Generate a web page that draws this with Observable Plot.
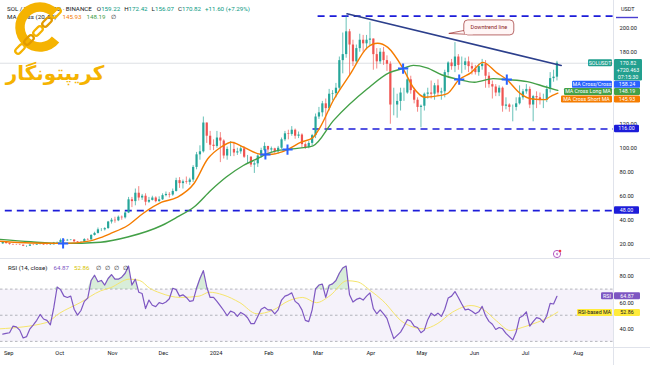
<!DOCTYPE html>
<html>
<head>
<meta charset="utf-8">
<script src="https://cdn.jsdelivr.net/npm/d3@7"></script>
<script src="https://cdn.jsdelivr.net/npm/@observablehq/plot@0.6"></script>
<style>
  html, body { margin: 0; padding: 0; background: #ffffff; }
  #chart { width: 650px; height: 365px; overflow: hidden; position: relative; background: #fff; }
  #chart svg { display: block; }
</style>
</head>
<body>
<div id="chart"></div>
<script>
// ================= DATA =================
// 2-day candles, first one starts 2023-08-28, last one 2024-07-19/20
const candleStart = "2023-08-28";
const firstOpen = 20.3;
const closes = [
  21.7, 20.5,
  19.8, 19.5, 19.4, 19.2, 18.3, 18.3, 19.3, 19.2, 19.7, 20.0, 19.4, 19.3, 19.5, 21.0, 21.3,
  23.2, 22.8, 23.3, 23.5, 22.0, 21.5, 21.6, 23.9, 23.6, 27.3, 29.0, 32.0, 32.0, 33.0, 38.5, 40.0,
  39.5, 42.5, 42.0, 46.0, 57.0, 55.5, 62.5, 58.5, 60.0, 55.0, 56.5, 58.5, 55.5, 57.0, 60.5,
  61.5, 61.0, 64.0, 73.0, 70.5, 72.0, 71.5, 73.5, 84.0, 94.5, 97.0, 121.0, 110.0, 102.5, 101.5,
  108.5, 106.0, 93.5, 99.0, 99.0, 96.0, 97.0, 99.5, 92.5, 92.5, 86.0, 87.0, 93.5, 98.0, 101.5, 98.5,
  99.5, 97.0, 100.0, 107.0, 112.0, 111.5, 115.0, 110.0, 111.0, 103.0, 100.5, 104.0, 110.5, 126.0,
  129.5, 137.0, 133.0, 145.0, 145.5, 150.0, 173.0, 178.0, 197.0, 186.0, 172.0, 183.0, 190.0, 187.0, 190.0, 191.0,
  178, 172, 180, 173, 170, 136, 136, 139, 146, 146, 157, 148, 140, 134, 135,
  145, 146, 145, 152, 146, 147, 163, 171, 168, 176, 169, 169, 172, 168, 166,
  163, 168, 170, 160, 153, 151, 146, 150, 135, 136, 134, 134, 137, 142, 147,
  149, 136, 143, 142, 140, 140, 149, 158, 159.22, 170.82
];
const highs = [
  22.3, 21.9,
  20.8, 20.0, 19.9, 19.9, 19.3, 18.6, 19.6, 19.7, 20.2, 20.6, 20.2, 19.7, 19.8, 21.5, 21.8,
  24.4, 23.7, 24.0, 23.9, 23.6, 22.2, 22.0, 24.6, 24.6, 28.0, 30.0, 33.5, 33.0, 33.8, 39.0, 41.5,
  42.5, 43.5, 43.5, 47.0, 59.0, 59.0, 66.0, 68.0, 61.5, 62.0, 59.0, 60.0, 59.5, 59.5, 62.0,
  63.5, 63.0, 66.0, 75.0, 75.5, 73.5, 76.0, 75.0, 85.5, 96.5, 102.0, 126.0, 121.0, 114.0, 107.0,
  114.0, 113.0, 107.0, 101.0, 105.5, 105.0, 100.0, 102.0, 101.0, 94.0, 93.0, 89.0, 94.5, 100.0, 104.5, 101.5,
  101.0, 100.0, 101.5, 108.5, 114.0, 115.0, 118.0, 116.0, 113.5, 112.0, 104.5, 105.5, 111.5, 128.5,
  134, 139, 141, 149, 148, 154, 176, 196, 210, 199, 190, 186, 195, 194, 194, 205,
  191, 183, 183, 184, 177, 172, 150, 145, 150, 150, 165, 160, 150, 142, 136,
  146, 150, 156, 154, 157, 150, 165, 172, 174, 188, 178, 176, 175, 176, 171,
  169, 170, 174, 173, 163, 156, 153, 152, 151, 142, 137, 136, 142, 152, 149,
  153, 151, 144, 147, 146, 145, 152, 163, 165, 172.42
];
const lows = [
  19.8, 20.1,
  19.2, 19.1, 19.0, 18.9, 18.0, 17.3, 18.2, 18.8, 19.0, 19.5, 19.1, 19.0, 18.9, 19.4, 20.8,
  21.2, 22.2, 22.4, 22.9, 21.6, 20.9, 21.0, 21.4, 23.0, 23.5, 26.8, 28.5, 30.5, 31.0, 32.5, 36.8,
  37.5, 38.8, 40.0, 41.0, 45.5, 50.5, 52.0, 56.0, 56.5, 52.0, 54.0, 56.0, 54.5, 55.0, 56.5,
  59.5, 58.5, 60.0, 63.5, 66.5, 66.0, 70.0, 69.0, 71.5, 82.0, 90.0, 96.0, 104.0, 98.0, 98.0,
  100.0, 88.0, 91.0, 90.0, 93.0, 93.0, 94.0, 95.0, 91.5, 87.0, 84.0, 79.0, 84.0, 92.0, 97.0, 94.5,
  96.5, 95.0, 95.0, 99.0, 105.5, 107.0, 110.0, 107.5, 108.0, 100.0, 99.0, 99.5, 102.0, 108.0,
  124, 126, 116, 131, 139.5, 142, 148, 162, 175, 160, 168, 170, 180, 180, 182, 185,
  165, 166, 170, 169, 164, 120, 127, 125, 131, 139, 145, 145, 137, 130, 117,
  131, 141, 141, 140, 143, 140, 142, 160, 165, 163, 165, 162, 165, 163, 161,
  161, 160, 165, 150, 150, 141, 143, 143, 130, 132, 130, 122, 131, 136, 140,
  145, 133, 122, 133, 136, 133, 138, 146, 155, 156.07
];
// RSI(14) read at each candle position
const rsiValues = [
  36, 36.5, 37, 42, 41.5, 39, 33, 34, 40, 43,
  46.5, 51, 47.5, 46.5, 43, 56, 72, 70, 65, 64,
  65, 55, 50.5, 54, 61, 63.5, 77, 81, 76, 77,
  73.5, 78.5, 81.5, 78, 78, 79.5, 82.5, 88, 73.5, 78,
  68, 67, 55.5, 62, 58, 57, 60, 59.2, 60.5, 63,
  71, 70, 65, 66, 64, 61, 61.5, 71, 78.5, 84.5,
  72, 64, 64, 61, 57.5, 54, 50, 53.5, 52.5, 49.5,
  52.5, 51, 48.5, 44, 44, 49.5, 55, 56.5, 54.5, 54.5,
  51.5, 54.5, 62, 65, 66, 67.5, 61, 59, 54.5, 46.5,
  45.5, 54.5, 70.5, 73.5, 74.2, 64, 73.3, 74.4, 77, 82.5,
  86.5, 88, 66, 60.5, 62.5, 63.5, 62, 65, 67.5, 55.5,
  51.5, 54.5, 51.5, 48, 40, 32.5, 35, 37.5, 42, 47,
  46, 42, 41, 37, 39, 47, 52, 50, 52, 49.5,
  55, 63.5, 65, 68.5, 64, 59, 54.5, 55, 53.5, 51.5,
  53, 57.2, 50, 45.7, 43.5, 39.5, 41, 40, 36.5, 34,
  31.5, 37.5, 48.5, 50, 53, 42, 45.5, 48.5, 47.8, 45,
  50, 59.5, 59, 64.87
];
// MA Cross (20, 50): short (orange) and long (green) moving averages
const shortMA = [
  ["2023-08-27", 22.5], ["2023-09-14", 21], ["2023-10-03", 20.7], ["2023-10-19", 22.8],
  ["2023-10-25", 25.5], ["2023-10-31", 29], ["2023-11-10", 35.6], ["2023-11-19", 45.6],
  ["2023-11-30", 55], ["2023-12-09", 59], ["2023-12-19", 70.6], ["2023-12-27", 91],
  ["2024-01-04", 101], ["2024-01-10", 105], ["2024-01-17", 101], ["2024-01-27", 95],
  ["2024-01-30", 94.8], ["2024-02-03", 95], ["2024-02-12", 98.9], ["2024-02-20", 105],
  ["2024-02-27", 109], ["2024-03-02", 117], ["2024-03-10", 140], ["2024-03-20", 162],
  ["2024-03-30", 184], ["2024-04-05", 187.5], ["2024-04-11", 184], ["2024-04-20", 166.4],
  ["2024-04-26", 150.6], ["2024-05-03", 142.5], ["2024-05-12", 144], ["2024-05-16", 145.5],
  ["2024-05-23", 157.2], ["2024-05-30", 163], ["2024-06-06", 171.5], ["2024-06-14", 163],
  ["2024-06-20", 157.2], ["2024-06-28", 145.5], ["2024-07-05", 141], ["2024-07-13", 140.5],
  ["2024-07-15", 142.5], ["2024-07-20", 145.93]
];
const longMA = [
  ["2023-08-27", 24], ["2023-09-14", 22], ["2023-10-03", 20.7], ["2023-10-25", 21.7],
  ["2023-11-10", 26], ["2023-11-30", 35.6], ["2023-12-09", 42.5], ["2023-12-19", 51],
  ["2023-12-29", 65], ["2024-01-07", 76], ["2024-01-17", 85.6], ["2024-01-27", 92.5],
  ["2024-01-30", 94.8], ["2024-02-06", 98], ["2024-02-12", 98.9], ["2024-02-15", 99.5],
  ["2024-02-27", 102], ["2024-03-10", 123], ["2024-03-30", 149.6], ["2024-04-12", 163],
  ["2024-04-20", 166.4], ["2024-04-26", 169], ["2024-05-04", 167], ["2024-05-13", 161],
  ["2024-05-23", 157.2], ["2024-06-01", 155], ["2024-06-12", 158], ["2024-06-20", 157.2],
  ["2024-07-02", 155.5], ["2024-07-13", 151], ["2024-07-20", 148.19]
];
const maCrosses = [
  ["2023-10-03", 20.7], ["2024-01-30", 94.8], ["2024-02-12", 98.9],
  ["2024-04-20", 166.4], ["2024-05-23", 157.2], ["2024-06-20", 157.2]
];
// RSI-based MA (yellow)
const rsiMA = [
  ["2023-08-27", 40], ["2023-09-23", 44.7], ["2023-10-01", 52], ["2023-10-13", 60],
  ["2023-10-25", 69], ["2023-10-31", 71.5], ["2023-11-11", 78], ["2023-11-17", 77],
  ["2023-11-23", 71], ["2023-11-29", 67.5], ["2023-12-11", 64], ["2023-12-22", 65],
  ["2023-12-28", 68], ["2024-01-05", 66], ["2024-01-15", 60], ["2024-01-25", 51.5],
  ["2024-02-03", 54], ["2024-02-13", 61.6], ["2024-02-21", 64], ["2024-02-29", 60],
  ["2024-03-08", 65.4], ["2024-03-18", 76.8], ["2024-03-24", 76], ["2024-04-01", 69],
  ["2024-04-08", 61.6], ["2024-04-20", 45], ["2024-05-02", 40], ["2024-05-10", 43.8],
  ["2024-05-19", 52.7], ["2024-05-30", 57.8], ["2024-06-06", 55], ["2024-06-14", 46],
  ["2024-06-22", 38.7], ["2024-06-29", 41], ["2024-07-08", 45], ["2024-07-15", 49],
  ["2024-07-20", 52.86]
];
// horizontal dashed levels and the downtrend line
const levelPrices = [210, 116, 48];
const levelStarts = ["2024-03-01", "2024-02-27", "2023-08-30"];
const trendLine = [["2024-03-18", 212], ["2024-07-22", 169]];
const lastClose = 170.82;
const priceTicks = [20, 40, 60, 80, 100, 120, 180, 200];
const rsiTicks = [40, 60, 80];
const monthTickDates = ["2023-09-01","2023-10-01","2023-11-01","2023-12-01","2024-01-01","2024-02-01",
  "2024-03-01","2024-04-01","2024-05-01","2024-06-01","2024-07-01","2024-08-01"];
const monthTickLabels = ["Sep","Oct","Nov","Dec","2024","Feb","Mar","Apr","May","Jun","Jul","Aug"];

// ================= BUILD =================
const FONT = "Roboto, 'Liberation Sans', sans-serif";
const UP = "#26a69a", DOWN = "#ef5350";
const DAY = 864e5;
const t0 = new Date(candleStart + "T12:00:00Z");
const candles = closes.map((c, i) => ({
  date: new Date(+t0 + 2 * i * DAY),
  open: i ? closes[i - 1] : firstOpen,
  close: c, high: highs[i], low: lows[i], rsi: rsiValues[i]
}));
const pts = arr => arr.map(([d, v]) => ({date: new Date(d + "T00:00:00Z"), value: v}));
const xDomain = [new Date("2023-08-27T04:19:00Z"), new Date("2024-08-21T18:14:00Z")];
const levels = levelPrices.map((p, i) => ({price: p, from: new Date(levelStarts[i] + "T00:00:00Z")}));
const monthTicks = monthTickDates.map(d => new Date(d + "T00:00:00Z"));
const candleColor = d => d.close >= d.open ? UP : DOWN;

function tag(g, x0, yc, w, h, fill, text, color = "#fff") {
  g.append("rect").attr("x", x0).attr("y", yc - h / 2).attr("width", w).attr("height", h)
    .attr("rx", 1.2).attr("fill", fill);
  g.append("text").attr("x", x0 + w / 2).attr("y", yc).attr("dy", "0.35em")
    .attr("text-anchor", "middle").attr("font-size", 5.3).attr("fill", color).text(text);
}
function header(g, x, y, parts) {
  const t = g.append("text").attr("x", x).attr("y", y).attr("font-size", 6.2).attr("text-anchor", "start");
  parts.forEach(([s, c, dx]) => t.append("tspan").attr("fill", c).attr("dx", dx || 0).text(s));
}

function mainOverlay(index, scales, values, dims) {
  const sx = scales.x, sy = scales.y;
  const R = dims.width - dims.marginRight;
  const g = d3.create("svg:g").attr("font-family", FONT);
  g.append("line").attr("x1", R + 0.5).attr("x2", R + 0.5).attr("y1", 0).attr("y2", dims.height)
    .attr("stroke", "#e0e3eb");
  // legend texts
  const dark = "#131722", green = "#089981";
  header(g, 7, 10.5, [["SOL / TetherUS · 1D · BINANCE", dark], ["O", dark, 5], ["159.22", green],
    ["H", dark, 4], ["172.42", green], ["L", dark, 4], ["156.07", green], ["C", dark, 4],
    ["170.82", green], ["+11.60 (+7.29%)", green, 4]]);
  header(g, 7, 18.5, [["MA Cross (20, 50)", dark], ["145.93", "#f57c00", 6], ["148.19", "#43a047", 5], ["∅", dark, 5]]);
  // right-hand axis header
  g.append("text").attr("x", 621).attr("y", 11).attr("font-size", 5.5).attr("text-anchor", "start")
    .attr("fill", dark).text("USDT");
  g.append("line").attr("x1", 616).attr("x2", 638).attr("y1", 17.5).attr("y2", 17.5)
    .attr("stroke", "#4a3fd1").attr("stroke-width", 1.4);
  // level tags
  levelPrices.slice(1).forEach(p => tag(g, R + 1, sy(p), 25, 7.5, "#1c1cd9", p.toFixed(2)));
  // price + MA tags
  const yP = sy(lastClose);
  tag(g, 588, yP, 24, 7, "#22a08f", "SOLUSDT");
  g.append("rect").attr("x", R + 1).attr("y", yP - 3.8).attr("width", 28).attr("height", 21.5)
    .attr("rx", 1.2).attr("fill", "#22a08f");
  [["170.82", 0], ["+720.463", 7], ["07:15:30", 14]].forEach(([s, o]) =>
    g.append("text").attr("x", R + 15).attr("y", yP + o).attr("dy", "0.35em").attr("text-anchor", "middle")
      .attr("font-size", 5.3).attr("fill", "#fff").text(s));
  tag(g, 572, yP + 21.6, 40, 7, "#2962ff", "MA Cross/Cross");
  tag(g, R + 1, yP + 21.6, 26, 7, "#2962ff", "158.24");
  tag(g, 564, yP + 28.8, 48, 7, "#43a047", "MA Cross Long MA");
  tag(g, R + 1, yP + 28.8, 26, 7, "#43a047", "148.19");
  tag(g, 561, yP + 36.2, 51, 7, "#f57c00", "MA Cross Short MA");
  tag(g, R + 1, yP + 36.2, 26, 7, "#f57c00", "145.93");
  // callout "Downtrend line"
  const bx = sx(new Date("2024-05-26T00:00:00Z")), by = sy(206.5);
  g.append("path").attr("d", `M${bx + 3},${by + 10} L${bx - 15},${by + 13.5} L${bx + 7},${by + 14.6}Z`)
    .attr("fill", "#fff6f6").attr("stroke", "#9b2c2c").attr("stroke-width", 0.7);
  g.append("rect").attr("x", bx).attr("y", by).attr("width", 50).attr("height", 15).attr("rx", 4)
    .attr("fill", "#fff6f6").attr("stroke", "#9b2c2c").attr("stroke-width", 0.7);
  g.append("rect").attr("x", bx + 1).attr("y", by + 9).attr("width", 8).attr("height", 5.4).attr("fill", "#fff6f6");
  g.append("text").attr("x", bx + 25).attr("y", by + 7.5).attr("dy", "0.35em").attr("text-anchor", "middle")
    .attr("font-size", 5.5).attr("fill", "#8b1d1d").text("Downtrend line");
  // small alert icon
  g.append("circle").attr("cx", 557).attr("cy", 254).attr("r", 3.6).attr("fill", "#fff")
    .attr("stroke", "#ab47bc").attr("stroke-width", 0.9);
  g.append("path").attr("d", "M557.6,251.6 L555.8,254.4 L557.3,254.4 L556.6,256.4 L558.4,253.6 L556.9,253.6Z")
    .attr("fill", "#ab47bc");
  g.append("circle").attr("cx", 560).attr("cy", 251).attr("r", 1.3).attr("fill", "#f23645");
  // watermark logo
  const gold = "#f5b301";
  const lg = g.append("g");
  const cx = 40, cy = 27, r = 20;
  const a1 = -44 * Math.PI / 180, a2 = 39 * Math.PI / 180;
  lg.append("path")
    .attr("d", `M${cx + r * Math.cos(a1)},${cy + r * Math.sin(a1)} A${r},${r} 0 1 0 ${cx + r * Math.cos(a2)},${cy + r * Math.sin(a2)}`)
    .attr("fill", "none").attr("stroke", gold).attr("stroke-width", 9.5).attr("stroke-linecap", "butt");
  [[20, 49], [29, 40], [38, 31], [47, 22], [56, 13]].forEach(([lx, ly], k) =>
    lg.append("rect").attr("x", lx - 5.5).attr("y", ly - 2.8).attr("width", 11).attr("height", 5.6).attr("rx", 2.8)
      .attr("transform", `rotate(-45 ${lx} ${ly})`)
      .attr("fill", "none").attr("stroke", k % 2 ? "#e39b00" : gold).attr("stroke-width", 2.2));
  lg.append("text").attr("x", 55).attr("y", 80).attr("text-anchor", "middle")
    .attr("font-family", "'DejaVu Sans', sans-serif").attr("font-weight", "bold").attr("font-size", 20)
    .attr("fill", gold).text("کریپتونگار");
  return g.node();
}

function rsiBelow(index, scales, values, dims) {
  const sy = scales.y;
  const R = dims.width - dims.marginRight;
  const g = d3.create("svg:g");
  g.append("rect").attr("x", 0).attr("y", sy(70)).attr("width", R).attr("height", sy(30) - sy(70))
    .attr("fill", "#7e57c2").attr("fill-opacity", 0.08);
  [70, 50, 30].forEach(v => g.append("line").attr("x1", 0).attr("x2", R).attr("y1", sy(v)).attr("y2", sy(v))
    .attr("stroke", "#9598a1").attr("stroke-width", 0.7).attr("stroke-dasharray", "2.5,2.5"));
  return g.node();
}

function rsiAbove(index, scales, values, dims) {
  const sy = scales.y;
  const R = dims.width - dims.marginRight;
  const H = dims.height - dims.marginBottom;
  const g = d3.create("svg:g").attr("font-family", FONT);
  g.append("line").attr("x1", 0).attr("x2", dims.width).attr("y1", 0.5).attr("y2", 0.5).attr("stroke", "#e0e3eb");
  g.append("line").attr("x1", 0).attr("x2", dims.width).attr("y1", H + 0.5).attr("y2", H + 0.5).attr("stroke", "#e0e3eb");
  g.append("line").attr("x1", R + 0.5).attr("x2", R + 0.5).attr("y1", 0).attr("y2", dims.height).attr("stroke", "#e0e3eb");
  const dark = "#131722";
  header(g, 8, 12, [["RSI (14, close)", dark], ["64.87", "#7e57c2", 6], ["52.86", "#d6c300", 5],
    ["∅", dark, 6], ["∅", dark, 4], ["∅", dark, 4], ["∅", dark, 4]]);
  tag(g, 601, sy(64.87), 12, 7, "#7e57c2", "RSI");
  tag(g, R + 1, sy(64.87), 26, 7, "#7e57c2", "64.87");
  tag(g, 577, sy(52.86) + 1, 35, 7, "#ffeb3b", "RSI-based MA", dark);
  tag(g, R + 1, sy(52.86) + 1, 26, 7, "#ffeb3b", "52.86", dark);
  return g.node();
}

const main = Plot.plot({
  width: 650, height: 258,
  marginTop: 0, marginBottom: 0, marginLeft: 0, marginRight: 37,
  style: {fontFamily: FONT, fontSize: "5.7px", color: "#131722", background: "#ffffff"},
  x: {type: "utc", domain: xDomain, axis: null},
  y: {domain: [8.1, 223.1], axis: "right", ticks: priceTicks, tickFormat: d => d.toFixed(2),
      tickSize: 0, tickPadding: 6, label: null},
  marks: [
    Plot.ruleY([lastClose], {stroke: "#cfd2d9", strokeWidth: 0.7}),
    Plot.ruleY(levels, {y: "price", x1: "from", x2: () => xDomain[1], stroke: "#1c1cd9",
      strokeWidth: 1.7, strokeDasharray: "7,5"}),
    Plot.ruleX(candles, {x: "date", y1: "low", y2: "high", stroke: candleColor, strokeWidth: 0.7}),
    Plot.ruleX(candles, {x: "date", y1: "open", y2: "close", stroke: candleColor, strokeWidth: 2.2}),
    Plot.line(pts(longMA), {x: "date", y: "value", stroke: "#43a047", strokeWidth: 1.4, curve: "monotone-x"}),
    Plot.line(pts(shortMA), {x: "date", y: "value", stroke: "#f57c00", strokeWidth: 1.4, curve: "monotone-x"}),
    Plot.line(pts(trendLine), {x: "date", y: "value", stroke: "#2c3f8c", strokeWidth: 1.6}),
    Plot.dot(pts(maCrosses), {x: "date", y: "value", symbol: "plus", r: 3.4, stroke: "#2962ff", strokeWidth: 2}),
    mainOverlay
  ]
});

const rsiPlot = Plot.plot({
  width: 650, height: 107,
  marginTop: 0, marginBottom: 18, marginLeft: 0, marginRight: 37,
  style: {fontFamily: FONT, fontSize: "5.7px", color: "#131722", background: "#ffffff"},
  x: {type: "utc", domain: xDomain, ticks: monthTicks,
      tickFormat: d => monthTickLabels[monthTicks.findIndex(m => +m === +d)],
      tickSize: 0, tickPadding: 3, label: null},
  y: {domain: [25.7, 93.8], axis: "right", ticks: rsiTicks, tickFormat: d => d.toFixed(2),
      tickSize: 0, tickPadding: 6, label: null},
  marks: [
    rsiBelow,
    Plot.areaY(candles, {x: "date", y1: 70, y2: d => Math.max(70, d.rsi), fill: "#4caf50", fillOpacity: 0.22}),
    Plot.line(pts(rsiMA), {x: "date", y: "value", stroke: "#f5e56b", strokeWidth: 1, curve: "monotone-x"}),
    Plot.line(candles, {x: "date", y: "rsi", stroke: "#7e57c2", strokeWidth: 1.2}),
    rsiAbove
  ]
});

document.getElementById("chart").append(main, rsiPlot);
</script>
</body>
</html>
